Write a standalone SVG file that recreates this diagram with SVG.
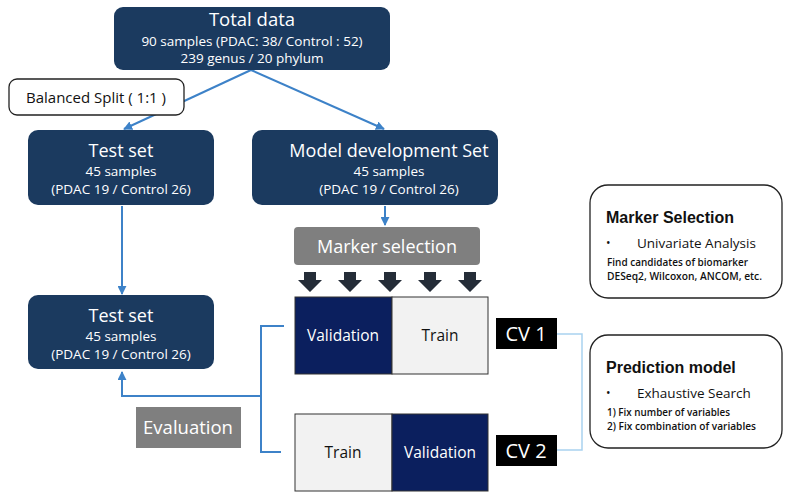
<svg xmlns="http://www.w3.org/2000/svg" width="789" height="499" viewBox="0 0 789 499">
<defs>
<style>
.nb{fill:#1b3a5f}
.t{font-family:"Open Sans","Noto Sans",sans-serif;text-anchor:middle}
.s{font-weight:500;font-size:13.5px}
.w{fill:#fff}
.ln{fill:none;stroke:#3d82c8;stroke-width:2}
.lb{fill:none;stroke:#a9d2f0;stroke-width:1.5}
.gr{fill:#7f7f7f}
.ba{fill:#252d38}
.val{fill:#0b1f5e;stroke:#333;stroke-width:1}
.tr{fill:#f2f2f2;stroke:#333;stroke-width:1}
.cv{fill:#000}
.info{fill:#fff;stroke:#222;stroke-width:1.3}
.it{font-family:"Open Sans","Noto Sans",sans-serif;fill:#111}
.ih{font-family:"Liberation Sans",Arial,sans-serif;font-weight:bold;font-size:16px;fill:#111}
.sm{font-size:11.5px;font-weight:600}
</style>
<marker id="ah" viewBox="0 0 10 10" refX="9" refY="5" markerWidth="4.5" markerHeight="4.5" orient="auto-start-reverse"><path d="M0,0 L10,5 L0,10 z" fill="#3d82c8"/></marker>
<path id="bar" d="M-6,0 h12 v8 h6 l-12,12 l-12,-12 h6 z"/>
</defs>

<g id="connectors">
<path class="ln" d="M251,70 L124,129" marker-end="url(#ah)"/>
<path class="ln" d="M251,70 L384,129" marker-end="url(#ah)"/>
<path class="ln" d="M385,206 L385,225" marker-end="url(#ah)"/>
<path class="ln" d="M122,206 L122,294" marker-end="url(#ah)"/>
<path class="ln" d="M284,326 H261 V452 H281"/>
<path class="ln" d="M261,396 H122 V372" marker-end="url(#ah)"/>
<path class="lb" d="M557,334 H582 V450 H557"/>
</g>

<g id="total-data">
<rect class="nb" x="114" y="7" width="276" height="63" rx="9"/>
<text class="t w" x="252" y="26" font-size="18.5">Total data</text>
<text class="t w s" x="252" y="46">90 samples (PDAC: 38/ Control : 52)</text>
<text class="t w s" x="252" y="63">239 genus / 20 phylum</text>
</g>

<g id="balanced-split">
<rect x="9" y="79" width="175" height="36" rx="8" fill="#fff" stroke="#222" stroke-width="1.3"/>
<text class="t" x="96" y="103" font-size="15" fill="#111">Balanced Split ( 1:1 )</text>
</g>

<g id="test-set">
<rect class="nb" x="28" y="130" width="186" height="75" rx="10"/>
<text class="t w" x="121" y="157" font-size="18">Test set</text>
<text class="t w s" x="121" y="176">45 samples</text>
<text class="t w s" x="121" y="194">(PDAC 19 / Control 26)</text>
</g>

<g id="model-dev">
<rect class="nb" x="252" y="130" width="246" height="75" rx="10"/>
<text class="t w" x="389" y="157" font-size="18">Model development Set</text>
<text class="t w s" x="389" y="176">45 samples</text>
<text class="t w s" x="389" y="194">(PDAC 19 / Control 26)</text>
</g>

<g id="marker-selection">
<rect class="gr" x="294" y="227" width="186" height="38" rx="4"/>
<text class="t w" x="387" y="253" font-size="18">Marker selection</text>
</g>

<g id="block-arrows" class="ba">
<use href="#bar" x="310" y="272"/>
<use href="#bar" x="350" y="272"/>
<use href="#bar" x="390" y="272"/>
<use href="#bar" x="430" y="272"/>
<use href="#bar" x="470" y="272"/>
</g>

<g id="test-set-2">
<rect class="nb" x="28" y="295" width="186" height="74" rx="10"/>
<text class="t w" x="121" y="322" font-size="18">Test set</text>
<text class="t w s" x="121" y="341">45 samples</text>
<text class="t w s" x="121" y="359">(PDAC 19 / Control 26)</text>
</g>

<g id="cv1-folds">
<rect class="val" x="295" y="297" width="97" height="77"/>
<rect class="tr" x="392" y="297" width="96" height="77"/>
<text class="t w" x="343" y="341" font-size="15.5">Validation</text>
<text class="t" x="440" y="341" font-size="15.5" fill="#111">Train</text>
</g>

<g id="cv2-folds">
<rect class="tr" x="295" y="414" width="97" height="77"/>
<rect class="val" x="392" y="414" width="96" height="77"/>
<text class="t" x="343" y="458" font-size="15.5" fill="#111">Train</text>
<text class="t w" x="440" y="458" font-size="15.5">Validation</text>
</g>

<g id="evaluation">
<rect class="gr" x="136" y="407" width="105" height="41"/>
<text class="t w" x="188" y="434" font-size="18.5">Evaluation</text>
</g>

<g id="cv1">
<rect class="cv" x="496" y="318" width="61" height="31"/>
<text class="t w" x="526" y="341" font-size="20">CV 1</text>
</g>

<g id="cv2">
<rect class="cv" x="496" y="435" width="61" height="31"/>
<text class="t w" x="526" y="458" font-size="20">CV 2</text>
</g>

<g id="marker-info">
<rect class="info" x="590" y="185" width="192" height="113" rx="18"/>
<text class="ih" x="606" y="223">Marker Selection</text>
<text class="it" x="606" y="247" font-size="12">•</text>
<text class="it" x="637" y="248" font-size="13.5">Univariate Analysis</text>
<text class="it sm" x="607" y="266" textLength="141" lengthAdjust="spacingAndGlyphs">Find candidates of biomarker</text>
<text class="it sm" x="607" y="280" textLength="155" lengthAdjust="spacingAndGlyphs">DESeq2, Wilcoxon, ANCOM, etc.</text>
</g>

<g id="prediction-info">
<rect class="info" x="590" y="335" width="192" height="113" rx="18"/>
<text class="ih" x="606" y="373">Prediction model</text>
<text class="it" x="606" y="397" font-size="12">•</text>
<text class="it" x="637" y="398" font-size="13.5">Exhaustive Search</text>
<text class="it sm" x="607" y="416" textLength="123" lengthAdjust="spacingAndGlyphs">1) Fix number of variables</text>
<text class="it sm" x="607" y="430" textLength="149" lengthAdjust="spacingAndGlyphs">2) Fix combination of variables</text>
</g>
</svg>
